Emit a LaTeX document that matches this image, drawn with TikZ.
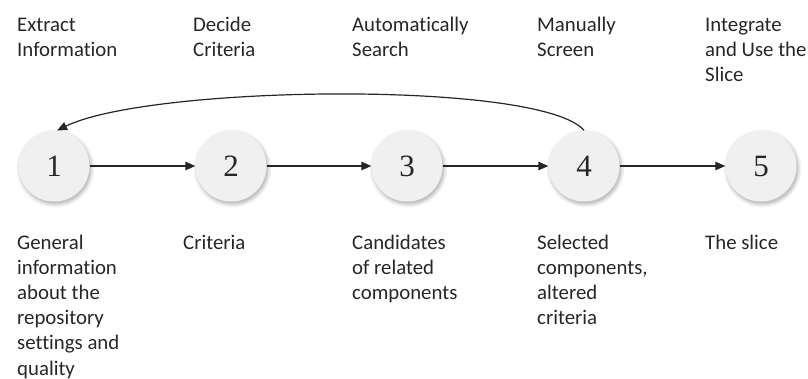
\documentclass[tikz,border=0pt]{standalone}
\usepackage{fontspec}
\setmainfont{Carlito}[Ligatures=CommonOff]
\newfontfamily\numfont{Liberation Serif}
\usetikzlibrary{arrows.meta}

\begin{document}
\begin{tikzpicture}[x=1pt,y=-1pt,
  stage/.style={circle, minimum size=71pt, inner sep=0pt, fill=black!6,
    font=\numfont\fontsize{31}{31}\selectfont, text=black!85},
  % multi-line labels sit on the baseline of their last line
  lbl/.style={anchor=base west, align=left, inner sep=0pt,
    font=\fontsize{20.8}{25.2}\selectfont, text=black!85},
  flow/.style={-{Triangle[length=10pt,width=8.5pt]}, line width=1.2pt, draw=black!85},
]
\useasboundingbox (0,0) rectangle (808,378);

% stage circles with a soft shadow to the lower right
\foreach \i/\x in {1/54,2/231,3/407,4/584,5/761}{
  \foreach \r/\o in {39/0.03,38/0.04,37/0.05,36/0.06,35/0.07}{
    \fill[black,opacity=\o] (\x+1.5,168.5) circle (\r);
  }
  \node[stage] (n\i) at (\x,166) {\i};
}

% forward flow
\draw[flow] (n1) -- (n2);
\draw[flow] (n2) -- (n3);
\draw[flow] (n3) -- (n4);
\draw[flow] (n4) -- (n5);

% feedback from screening back to extraction
\draw[flow] (n4.north) .. controls (540,80) and (150,85) .. (n1.85);

% step titles (first baseline at 31)
\node[lbl] (t1) at (17,56.2) {Extract\\Information};
\node[lbl] (t2) at (193,56.2) {Decide\\Criteria};
\node[lbl] (t3) at (352,56.2) {Automatically\\Search};
\node[lbl] (t4) at (537,56.2) {Manually\\Screen};
\node[lbl] (t5) at (705,81.4) {Integrate\\and Use the\\Slice};

% step outputs (first baseline at 249)
\node[lbl] (b1) at (17,375) {General\\information\\about the\\repository\\settings and\\quality};
\node[lbl] (b2) at (183,249) {Criteria};
\node[lbl] (b3) at (352,299.4) {Candidates\\of related\\components};
\node[lbl] (b4) at (537,324.6) {Selected\\components,\\altered\\criteria};
\node[lbl] (b5) at (705,249) {The slice};
\end{tikzpicture}
\end{document}
